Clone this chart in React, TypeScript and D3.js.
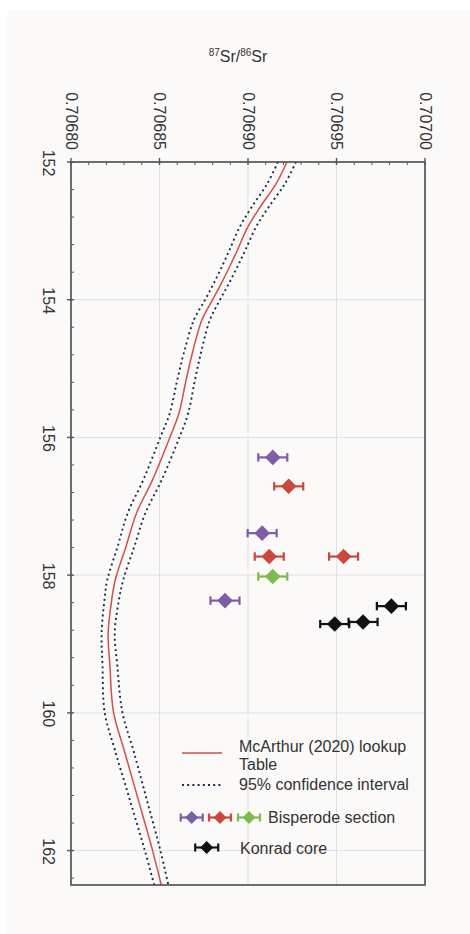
import React from "react";
import * as d3 from "d3";

// McArthur (2020) lookup curve: age (Ma) and 87Sr/86Sr
const curveAge = [152.0, 152.31, 152.65, 152.94, 153.28, 153.5, 153.76, 154.0, 154.29, 154.73, 155.17, 155.65, 155.99, 156.62, 157.1, 157.59, 158.07, 158.36, 158.84, 159.32, 159.99, 160.54, 161.26, 161.99, 162.5];
const curveSr = [0.706922, 0.706916, 0.706907, 0.7069, 0.706894, 0.70689, 0.706885, 0.70688, 0.706874, 0.706869, 0.706865, 0.706861, 0.706856, 0.706846, 0.706837, 0.706831, 0.706825, 0.706823, 0.706821, 0.706822, 0.706824, 0.70683, 0.706838, 0.706846, 0.706851];
const ciHalf = [0.0000051, 0.000005, 0.0000048, 0.0000046, 0.0000045, 0.0000044, 0.0000043, 0.0000042, 0.0000045, 0.0000048, 0.000005, 0.0000052, 0.0000054, 0.0000052, 0.000005, 0.0000047, 0.0000045, 0.0000041, 0.0000037, 0.0000042, 0.000005, 0.0000052, 0.0000048, 0.0000044, 0.000004];

// Samples
const sampleAge = [156.29, 156.71, 157.39, 157.73, 157.73, 158.02, 158.37, 158.45, 158.68, 158.71];
const sampleSr = [0.706914, 0.706923, 0.706908, 0.706912, 0.706954, 0.706914, 0.706887, 0.706981, 0.706965, 0.706949];
const sampleErr = [0.0000082, 0.0000082, 0.0000082, 0.0000082, 0.0000082, 0.0000082, 0.0000082, 0.0000082, 0.0000082, 0.0000082];
const sampleGroup = ["purple", "red", "purple", "red", "red", "green", "purple", "black", "black", "black"];

const srTicks = [0.7068, 0.70685, 0.7069, 0.70695, 0.707];
const ageTicks = [152, 154, 156, 158, 160, 162];

const colors: Record<string, string> = {
  purple: "#7d5ca8",
  red: "#cc463c",
  green: "#7fba4c",
  black: "#111111",
};

const FONT = "'Liberation Sans', Arial, sans-serif";
const DOT = "2,3.2";

function Diamond({ cx, cy, r, err, color, cap }: { cx: number; cy: number; r: number; err: number; color: string; cap: number }) {
  return (
    <g>
      <line x1={cx - err} x2={cx + err} y1={cy} y2={cy} stroke={color} strokeWidth={2.2} />
      <line x1={cx - err} x2={cx - err} y1={cy - cap} y2={cy + cap} stroke={color} strokeWidth={2.2} />
      <line x1={cx + err} x2={cx + err} y1={cy - cap} y2={cy + cap} stroke={color} strokeWidth={2.2} />
      <path d={`M${cx - r},${cy} L${cx},${cy - r} L${cx + r},${cy} L${cx},${cy + r} Z`} fill={color} />
    </g>
  );
}

export default function App() {
  const W = 470, H = 934;
  const left = 71, right = 425, top = 162, bottom = 885;
  const x = d3.scaleLinear().domain([0.7068, 0.707]).range([left, right]);
  const y = d3.scaleLinear().domain([152, 162.5]).range([top, bottom]);

  const idx = d3.range(curveAge.length);
  const mk = (f: (i: number) => number) =>
    d3
      .line<number>()
      .x((i) => x(f(i)))
      .y((i) => y(curveAge[i]))
      .curve(d3.curveCatmullRom.alpha(0.5))(idx) || "";
  const mid = mk((i) => curveSr[i]);
  const lo = mk((i) => curveSr[i] - ciHalf[i]);
  const hi = mk((i) => curveSr[i] + ciHalf[i]);

  const srMinor = d3.range(0.7068, 0.707001, 0.00001).filter((v) => !srTicks.some((t) => Math.abs(t - v) < 1e-9));
  const ageMinor = d3.range(152, 162.55, 0.4).filter((v) => !ageTicks.some((t) => Math.abs(t - v) < 1e-6));
  const fmt = d3.format(".5f");
  const axisColor = "#555";
  const textColor = "#333";

  return (
    <svg width={W} height={H} style={{ position: "absolute", left: 0, top: 0 }} fontFamily={FONT}>
      <rect x={0} y={0} width={W} height={H} fill="#ffffff" />
      <rect x={7} y={10} width={W - 7} height={H - 10} fill="#fbfaf8" />

      {/* title */}
      <text x={238} y={62} textAnchor="middle" fill={textColor} fontSize={16}>
        <tspan fontSize={10} dy={-6}>87</tspan>
        <tspan dy={6}>Sr/</tspan>
        <tspan fontSize={10} dy={-6}>86</tspan>
        <tspan dy={6}>Sr</tspan>
      </text>

      {/* gridlines */}
      {srTicks.slice(1, -1).map((t) => (
        <line key={"gx" + t} x1={x(t)} x2={x(t)} y1={top} y2={bottom} stroke="#e0e0e0" strokeWidth={1} />
      ))}
      {ageTicks.slice(1).map((t) => (
        <line key={"gy" + t} x1={left} x2={right} y1={y(t)} y2={y(t)} stroke="#e0e0e0" strokeWidth={1} />
      ))}

      {/* CI and curve */}
      <path d={lo} fill="none" stroke="#1e2a48" strokeWidth={1.9} strokeDasharray={DOT} />
      <path d={hi} fill="none" stroke="#1e2a48" strokeWidth={1.9} strokeDasharray={DOT} />
      <path d={mid} fill="none" stroke="#d0504a" strokeWidth={1.5} />

      {/* samples */}
      {sampleAge.map((a, i) => (
        <Diamond
          key={"s" + i}
          cx={x(sampleSr[i])}
          cy={y(a)}
          r={7.8}
          err={x(sampleSr[i] + sampleErr[i]) - x(sampleSr[i])}
          color={colors[sampleGroup[i]]}
          cap={4.2}
        />
      ))}

      {/* frame */}
      <rect x={left} y={top} width={right - left} height={bottom - top} fill="none" stroke={axisColor} strokeWidth={1.7} />

      {/* top axis ticks */}
      {srTicks.map((t) => (
        <g key={"tx" + t}>
          <line x1={x(t)} x2={x(t)} y1={top - 4} y2={top + 3} stroke={axisColor} strokeWidth={1.4} />
          <text
            transform={`translate(${x(t)},${top - 12}) rotate(90)`}
            textAnchor="end"
            dominantBaseline="central"
            fontSize={16}
            fill={textColor}
          >
            {fmt(t)}
          </text>
        </g>
      ))}
      {srMinor.map((t) => (
        <line key={"mx" + t} x1={x(t)} x2={x(t)} y1={top} y2={top + 3} stroke={axisColor} strokeWidth={1} />
      ))}

      {/* left axis ticks */}
      {ageTicks.map((t) => (
        <g key={"ty" + t}>
          <line x1={left - 4} x2={left + 3} y1={y(t)} y2={y(t)} stroke={axisColor} strokeWidth={1.4} />
          <text
            transform={`translate(${48},${y(t) + 1}) rotate(90)`}
            textAnchor="middle"
            dominantBaseline="central"
            fontSize={16}
            fill={textColor}
          >
            {t}
          </text>
        </g>
      ))}
      {ageMinor.map((t) => (
        <line key={"my" + t} x1={left} x2={left + 3} y1={y(t)} y2={y(t)} stroke={axisColor} strokeWidth={1} />
      ))}

      {/* legend */}
      <g fontSize={16} fill={textColor}>
        <line x1={182} x2={222} y1={753} y2={753} stroke="#d0504a" strokeWidth={1.5} />
        <text x={239} y={746} dominantBaseline="central">McArthur (2020) lookup</text>
        <text x={239} y={764} dominantBaseline="central">Table</text>
        <line x1={182} x2={222} y1={785} y2={785} stroke="#1e2a48" strokeWidth={1.9} strokeDasharray={DOT} />
        <text x={239} y={784} dominantBaseline="central">95% confidence interval</text>
        <Diamond cx={191.7} cy={817.5} r={6.5} err={11} color={colors.purple} cap={4} />
        <Diamond cx={220} cy={817.5} r={6.5} err={11} color={colors.red} cap={4} />
        <Diamond cx={249} cy={817.5} r={6.5} err={11} color={colors.green} cap={4} />
        <text x={268} y={817} dominantBaseline="central">Bisperode section</text>
        <Diamond cx={206.7} cy={847.5} r={6.5} err={11.5} color={colors.black} cap={4} />
        <text x={240} y={848.5} dominantBaseline="central">Konrad core</text>
      </g>
    </svg>
  );
}
